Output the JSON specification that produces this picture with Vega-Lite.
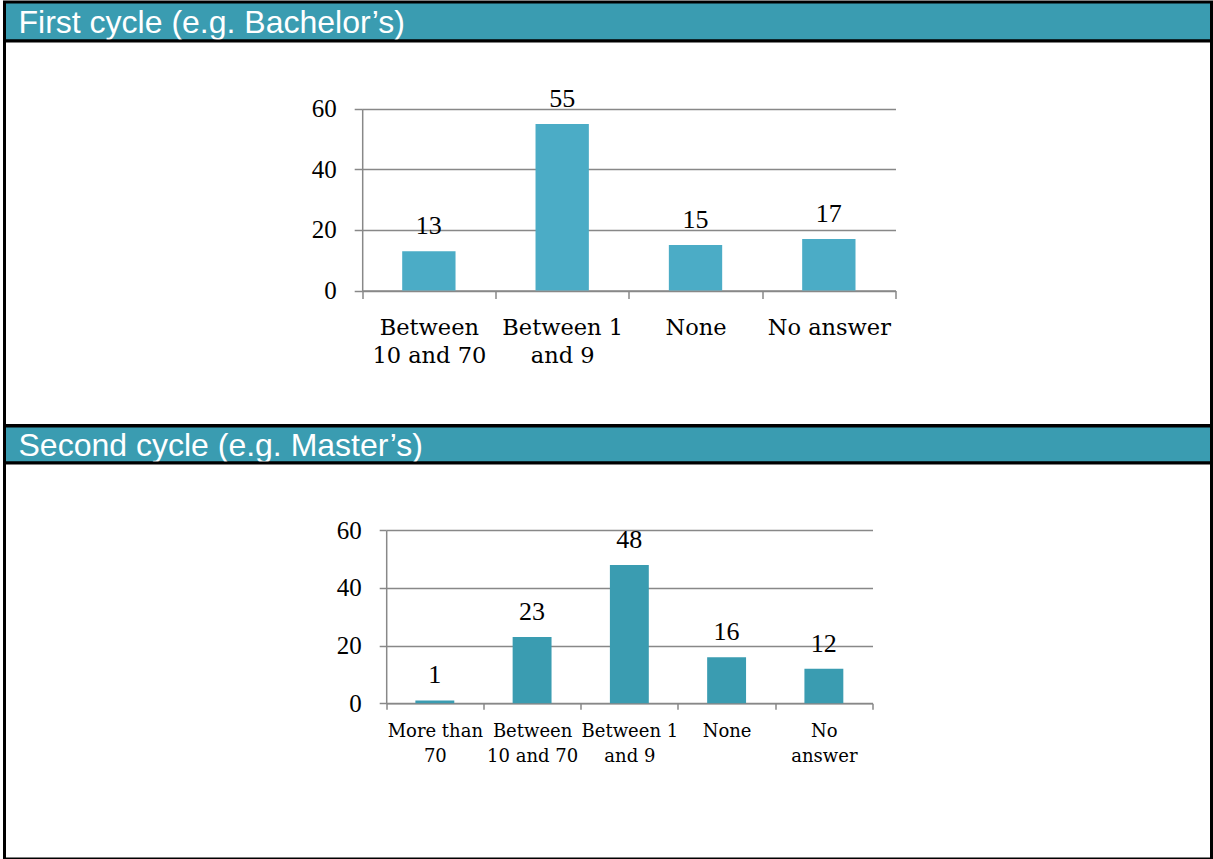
{
  "$schema": "https://vega.github.io/schema/vega-lite/v6.json",
  "padding": {"left": 2.5, "top": 0, "right": 0, "bottom": 0},
  "background": "white",
  "spacing": 0,
  "bounds": "flush",
  "config": {"concat": {"spacing": 0}},
  "vconcat": [
    {
      "width": 1207,
      "height": 39,
      "view": {"fill": "#3A9CB1", "stroke": "black", "strokeWidth": 3},
      "data": {"values": [{"section": "First cycle (e.g. Bachelor’s)"}]},
      "mark": {"type": "text", "align": "left", "baseline": "alphabetic", "x": 14, "y": 31, "font": "Liberation Sans", "fontSize": 32, "color": "white"},
      "encoding": {"text": {"field": "section", "type": "nominal"}}
    },
    {
      "width": 1207,
      "height": 384.5,
      "view": {"fill": "white", "stroke": "black", "strokeWidth": 3},
      "data": {"values": [
        {"category": "Between 10 and 70", "count": 13},
        {"category": "Between 1 and 9", "count": 55},
        {"category": "None", "count": 15},
        {"category": "No answer", "count": 17}
      ]},
      "encoding": {
        "x": {"field": "category", "type": "nominal", "sort": null,
          "scale": {"range": [357.7, 891], "paddingInner": 0, "paddingOuter": 0},
          "axis": {"title": null, "orient": "bottom", "offset": -135, "tickBand": "extent", "domainColor": "#888888", "domainWidth": 1.5, "tickColor": "#888888", "tickWidth": 1.5, "tickSize": 8, "labelAngle": 0, "labelFont": "DejaVu Serif", "labelFontSize": 22.5, "labelColor": "black", "labelPadding": 18, "labelLineHeight": 28, "labelBaseline": "top", "grid": false,
            "labelExpr": "datum.value == 'Between 10 and 70' ? ['Between', '10 and 70'] : datum.value == 'Between 1 and 9' ? ['Between 1', 'and 9'] : datum.label"}},
        "y": {"field": "count", "type": "quantitative",
          "scale": {"domain": [0, 60], "range": [249.5, 67.8], "nice": false, "zero": true},
          "axis": {"title": null, "orient": "left", "offset": -357.7, "values": [0, 20, 40, 60], "grid": true, "gridColor": "#888888", "gridWidth": 1.5, "domainColor": "#888888", "domainWidth": 1.5, "tickColor": "#888888", "tickWidth": 1.5, "tickSize": 8, "labelFont": "Liberation Serif", "labelFontSize": 25, "labelPadding": 18, "labelColor": "black"}}
      },
      "layer": [
        {"mark": {"type": "bar", "color": "#4BACC6", "width": {"band": 0.4}}},
        {"mark": {"type": "text", "baseline": "alphabetic", "dy": -17, "font": "Liberation Serif", "fontSize": 26, "color": "black"},
         "encoding": {"text": {"field": "count", "type": "quantitative"}}}
      ]
    },
    {
      "width": 1207,
      "height": 37,
      "view": {"fill": "#3A9CB1", "stroke": "black", "strokeWidth": 3},
      "data": {"values": [{"section": "Second cycle (e.g. Master’s)"}]},
      "mark": {"type": "text", "align": "left", "baseline": "alphabetic", "x": 14, "y": 30, "font": "Liberation Sans", "fontSize": 32, "color": "white"},
      "encoding": {"text": {"field": "section", "type": "nominal"}}
    },
    {
      "width": 1207,
      "height": 396,
      "view": {"fill": "white", "stroke": "black", "strokeWidth": 3},
      "data": {"values": [
        {"category": "More than 70", "count": 1},
        {"category": "Between 10 and 70", "count": 23},
        {"category": "Between 1 and 9", "count": 48},
        {"category": "None", "count": 16},
        {"category": "No answer", "count": 12}
      ]},
      "encoding": {
        "x": {"field": "category", "type": "nominal", "sort": null,
          "scale": {"range": [381.7, 868], "paddingInner": 0, "paddingOuter": 0},
          "axis": {"title": null, "orient": "bottom", "offset": -155.7, "tickBand": "extent", "domainColor": "#888888", "domainWidth": 1.5, "tickColor": "#888888", "tickWidth": 1.5, "tickSize": 6, "labelAngle": 0, "labelFont": "DejaVu Serif", "labelFontSize": 18, "labelColor": "black", "labelPadding": 13, "labelLineHeight": 25, "labelBaseline": "top", "grid": false,
            "labelExpr": "datum.value == 'More than 70' ? ['More than', '70'] : datum.value == 'Between 10 and 70' ? ['Between', '10 and 70'] : datum.value == 'Between 1 and 9' ? ['Between 1', 'and 9'] : datum.value == 'No answer' ? ['No', 'answer'] : datum.label"}},
        "y": {"field": "count", "type": "quantitative",
          "scale": {"domain": [0, 60], "range": [240.3, 67.3], "nice": false, "zero": true},
          "axis": {"title": null, "orient": "left", "offset": -381.7, "values": [0, 20, 40, 60], "grid": true, "gridColor": "#888888", "gridWidth": 1.5, "domainColor": "#888888", "domainWidth": 1.5, "tickColor": "#888888", "tickWidth": 1.5, "tickSize": 7, "labelFont": "Liberation Serif", "labelFontSize": 25, "labelPadding": 18, "labelColor": "black"}}
      },
      "layer": [
        {"mark": {"type": "bar", "color": "#3A9CB1", "width": {"band": 0.4}}},
        {"mark": {"type": "text", "baseline": "alphabetic", "dy": -17, "font": "Liberation Serif", "fontSize": 26, "color": "black"},
         "encoding": {"text": {"field": "count", "type": "quantitative"}}}
      ]
    }
  ]
}
